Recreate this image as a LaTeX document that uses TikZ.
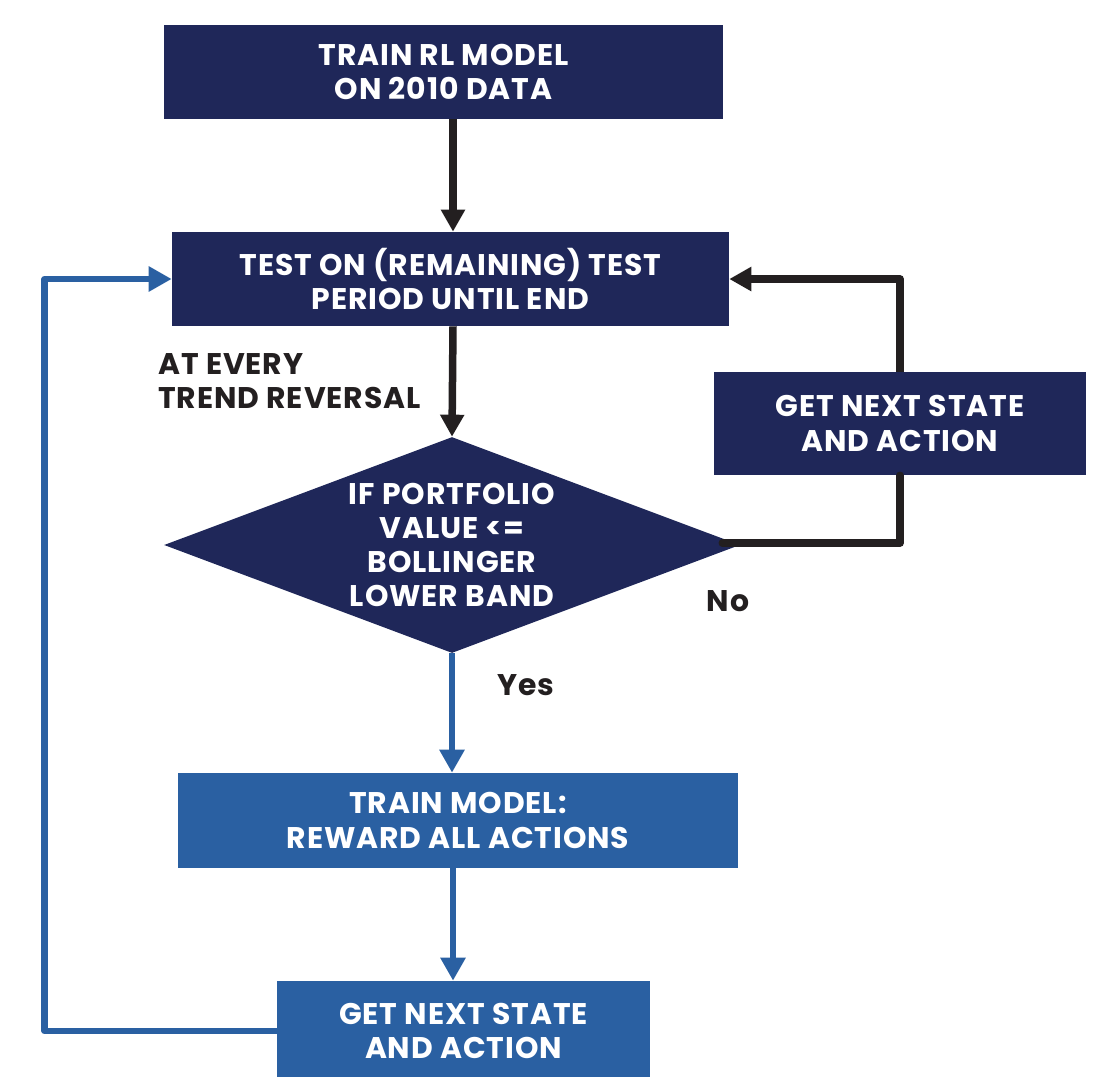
\documentclass[tikz,border=0pt]{standalone}
\usepackage{fontspec}
\setmainfont{Poppins}[LetterSpace=3]
\usepackage{xcolor}
\definecolor{navy}{RGB}{31,39,89}
\definecolor{steel}{RGB}{42,96,162}
\definecolor{ink}{RGB}{35,31,32}
\usepackage{tikz}
\usetikzlibrary{shapes.geometric, arrows.meta, positioning, calc}
\tikzstyle{block} = [rectangle, fill=navy, text=white, align=center, inner sep=0pt, font=\bfseries\fontsize{17}{19.5}\selectfont]
\tikzstyle{lblock} = [block, fill=steel]
\tikzstyle{note} = [text=ink, inner sep=0pt, font=\bfseries\fontsize{17}{19.5}\selectfont]
\tikzstyle{darr} = [draw=ink, line width=0.15cm, line join=round, -{Triangle[length=0.44cm, width=0.46cm]}]
\tikzstyle{barr} = [draw=steel, line width=0.13cm, line join=round, -{Triangle[length=0.46cm, width=0.48cm]}]

\begin{document}
\begin{tikzpicture}[x=0.02cm, y=-0.02cm]
    \useasboundingbox (0,0) rectangle (1116,1076);

    % blocks
    \node[block, minimum width=11.18cm, minimum height=1.88cm] (train) at (443.5,72)
    {TRAIN RL MODEL\\ON 2010 DATA};
    \node[block, minimum width=11.14cm, minimum height=1.88cm] (test) at (450.5,279)
    {TEST ON (REMAINING) TEST\\PERIOD UNTIL END};
    \node[block, shape=diamond, aspect=2.667, minimum width=11.52cm, minimum height=4.32cm] (dec) at (452,545)
    {IF PORTFOLIO\\VALUE <=\\BOLLINGER\\LOWER BAND};
    \node[block, minimum width=7.44cm, minimum height=2.06cm] (nxtr) at (900,423.5)
    {GET NEXT STATE\\AND ACTION};
    \node[lblock, minimum width=11.2cm, minimum height=1.9cm] (trn) at (458,820.5)
    {TRAIN MODEL:\\REWARD ALL ACTIONS};
    \node[lblock, minimum width=7.46cm, minimum height=2cm] (nxtb) at (463.5,1031)
    {GET NEXT STATE\\AND ACTION};

    % labels
    \node[note, align=left, anchor=north west] (rev) at (158,353) {AT EVERY\\TREND REVERSAL};
    \node[note] (no) at (728,601) {No};
    \node[note] (yes) at (526,685) {Yes};

    % main axis
    \coordinate (axis) at (453,0);
    \draw[darr] (axis |- train.south) -- (axis |- test.north);
    \draw[darr] (axis |- test.south) -- (dec.north);
    \draw[barr] (dec.south) -- (dec.south |- trn.north);
    \draw[barr] (axis |- trn.south) -- (axis |- nxtb.north);

    % no branch
    \draw[ink, line width=0.15cm, line join=round, line cap=round]
    ($(dec.east)+(-18,-2)$) -| (nxtr.south);
    \draw[darr] (nxtr.north) |- (test.east);

    % yes branch back to test
    \draw[barr] (nxtb.west) -- ++(-232,0) |- (test.west);
\end{tikzpicture}
\end{document}
